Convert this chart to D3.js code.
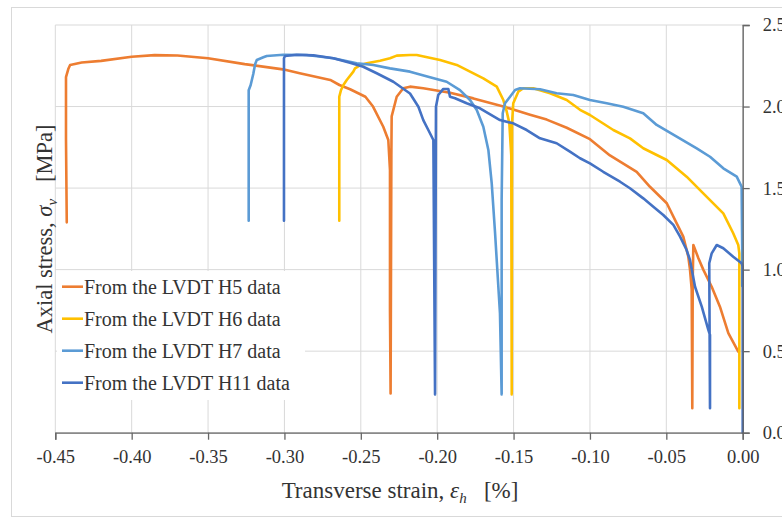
<!DOCTYPE html>
<html><head><meta charset="utf-8">
<script src="https://cdn.jsdelivr.net/npm/d3@7"></script>
<style>
html,body{margin:0;padding:0;background:#fff;}
svg{display:block;}
text{font-family:"Liberation Serif","Times New Roman",serif;fill:#333;}
</style></head>
<body>
<svg id="chart" width="782" height="518"></svg>
<script>
// ---- data ----
const seriesNames = ["From the LVDT H5 data","From the LVDT H6 data","From the LVDT H7 data","From the LVDT H11 data"];
const seriesColors = ["#ED7D31","#FFC000","#5B9BD5","#4472C4"];
const xTicks = [-0.45,-0.40,-0.35,-0.30,-0.25,-0.20,-0.15,-0.10,-0.05,0.00];
const yTicks = [0.0,0.5,1.0,1.5,2.0,2.5];

const h5 = [[-0.4425,1.29],[-0.4430,1.80],[-0.4430,2.18],[-0.4415,2.23],[-0.4403,2.255],[-0.4327,2.27],[-0.420,2.28],[-0.400,2.305],[-0.385,2.315],[-0.370,2.313],[-0.350,2.296],[-0.326,2.26],[-0.301,2.228],[-0.290,2.204],[-0.270,2.163],[-0.264,2.132],[-0.257,2.106],[-0.247,2.06],[-0.242,2.00],[-0.2353,1.876],[-0.2320,1.795],[-0.2309,1.61],[-0.2309,0.75],[-0.2305,0.24],[-0.2300,1.70],[-0.2298,1.94],[-0.2265,2.06],[-0.2222,2.112],[-0.2178,2.122],[-0.2091,2.112],[-0.1916,2.085],[-0.1763,2.05],[-0.1567,2.00],[-0.1392,1.95],[-0.1283,1.92],[-0.1152,1.87],[-0.1000,1.80],[-0.0869,1.70],[-0.0694,1.60],[-0.0607,1.508],[-0.0497,1.407],[-0.0432,1.284],[-0.0389,1.202],[-0.0356,1.079],[-0.0345,1.00],[-0.0334,0.88],[-0.0330,0.15],[-0.0327,0.95],[-0.0323,1.151],[-0.0290,1.07],[-0.0258,1.00],[-0.0203,0.895],[-0.0149,0.773],[-0.0094,0.61],[-0.0029,0.497]];
const h6 = [[-0.2641,1.30],[-0.2641,2.06],[-0.2630,2.10],[-0.2614,2.132],[-0.2592,2.163],[-0.2549,2.214],[-0.2538,2.234],[-0.2500,2.255],[-0.2461,2.265],[-0.2374,2.281],[-0.2309,2.296],[-0.2265,2.312],[-0.2178,2.316],[-0.2134,2.316],[-0.1981,2.285],[-0.1872,2.255],[-0.1785,2.214],[-0.1698,2.173],[-0.1610,2.122],[-0.1567,2.040],[-0.1545,1.97],[-0.1528,1.90],[-0.1515,1.70],[-0.1512,0.235],[-0.1510,1.897],[-0.1502,2.020],[-0.1469,2.091],[-0.1436,2.112],[-0.1371,2.112],[-0.1261,2.081],[-0.1152,2.040],[-0.1065,1.98],[-0.1000,1.948],[-0.0847,1.856],[-0.0738,1.805],[-0.0651,1.744],[-0.0497,1.672],[-0.0367,1.570],[-0.0258,1.468],[-0.0127,1.345],[-0.0062,1.223],[-0.0029,1.151],[-0.0022,1.10],[-0.0022,0.15]];
const h7 = [[-0.3234,1.30],[-0.3234,2.10],[-0.3221,2.132],[-0.3204,2.20],[-0.3192,2.26],[-0.3181,2.285],[-0.3138,2.302],[-0.3116,2.310],[-0.3007,2.318],[-0.2854,2.316],[-0.2680,2.296],[-0.2527,2.265],[-0.2418,2.255],[-0.2309,2.234],[-0.2178,2.214],[-0.2047,2.179],[-0.1938,2.152],[-0.1851,2.101],[-0.1785,2.040],[-0.1741,1.979],[-0.1698,1.876],[-0.1665,1.734],[-0.1643,1.529],[-0.1621,1.223],[-0.1589,0.732],[-0.1578,0.235],[-0.1578,1.427],[-0.1571,1.959],[-0.1556,2.020],[-0.1523,2.060],[-0.1490,2.101],[-0.1458,2.112],[-0.1327,2.106],[-0.1218,2.081],[-0.1109,2.071],[-0.1000,2.040],[-0.0890,2.020],[-0.0782,1.999],[-0.0651,1.959],[-0.0563,1.887],[-0.0432,1.815],[-0.0301,1.744],[-0.0214,1.692],[-0.0127,1.621],[-0.0039,1.570],[-0.0007,1.508],[-0.0003,1.10],[-0.0003,0.90]];
const h11 = [[-0.3003,1.30],[-0.3003,2.296],[-0.2996,2.31],[-0.2920,2.318],[-0.2811,2.314],[-0.2680,2.296],[-0.2571,2.269],[-0.2484,2.244],[-0.2396,2.204],[-0.2287,2.152],[-0.2178,2.08],[-0.2123,1.999],[-0.2091,1.917],[-0.2058,1.856],[-0.2025,1.795],[-0.2014,0.235],[-0.2008,1.999],[-0.1993,2.071],[-0.1960,2.108],[-0.1927,2.108],[-0.1916,2.060],[-0.1883,2.051],[-0.1807,2.020],[-0.1720,1.989],[-0.1589,1.917],[-0.1502,1.897],[-0.1414,1.856],[-0.1327,1.805],[-0.1218,1.775],[-0.1131,1.723],[-0.1065,1.683],[-0.1000,1.652],[-0.0913,1.600],[-0.0803,1.539],[-0.0738,1.499],[-0.0651,1.437],[-0.0585,1.386],[-0.0520,1.335],[-0.0454,1.274],[-0.0410,1.202],[-0.0367,1.120],[-0.0345,1.059],[-0.0312,0.895],[-0.0268,0.773],[-0.0225,0.630],[-0.0214,0.599],[-0.0214,0.15],[-0.0219,1.039],[-0.0203,1.100],[-0.0170,1.151],[-0.0127,1.131],[-0.0062,1.079],[-0.0007,1.039],[0.0,1.02],[0.0,0.0]];
const seriesData = [h5,h6,h7,h11];

// ---- chart ----
const svg = d3.select("#chart");
const L = 55.3, R = 742.7, T = 25, B = 432.7;
const x = d3.scaleLinear().domain([-0.45,0]).range([L,R]);
const y = d3.scaleLinear().domain([0,2.5]).range([B,T]);

// outer border
svg.append("rect").attr("x",11.5).attr("y",7.5).attr("width",800).attr("height",509)
  .attr("fill","#fff").attr("stroke","#d9d9d9").attr("stroke-width",1);

// gridlines
const grid = svg.append("g");
grid.selectAll("line.v").data(xTicks).join("line")
  .attr("x1",d=>x(d)).attr("x2",d=>x(d)).attr("y1",T).attr("y2",B)
  .attr("stroke","#d9d9d9").attr("stroke-width",1);
grid.selectAll("line.h").data(yTicks).join("line")
  .attr("x1",L).attr("x2",R).attr("y1",d=>y(d)).attr("y2",d=>y(d))
  .attr("stroke","#d9d9d9").attr("stroke-width",1);

// series
const line = d3.line().x(d=>x(d[0])).y(d=>y(d[1]));
svg.append("g").selectAll("path").data(seriesData).join("path")
  .attr("d",line).attr("fill","none")
  .attr("stroke",(d,i)=>seriesColors[i]).attr("stroke-width",2.6)
  .attr("stroke-linejoin","round").attr("stroke-linecap","round");

// axes
const fmtX = v => d3.format(".2f")(v).replace("\u2212","-");
const xAxis = d3.axisBottom(x).tickValues(xTicks).tickFormat(fmtX).tickSize(7).tickPadding(10);
const gx = svg.append("g").attr("transform",`translate(0,${B})`).call(xAxis);
gx.select(".domain").attr("stroke","#666").attr("stroke-width",1.3);
gx.selectAll(".tick line").attr("stroke","#666").attr("stroke-width",1.3);
gx.selectAll(".tick text").attr("font-size",18.5).attr("fill","#333")
  .attr("font-family","Liberation Serif, serif");

const yAxis = d3.axisRight(y).tickValues(yTicks).tickFormat(d3.format(".1f")).tickSize(7).tickPadding(13);
const gy = svg.append("g").attr("transform",`translate(${R},0)`).call(yAxis);
gy.select(".domain").attr("stroke","#666").attr("stroke-width",1.3);
gy.selectAll(".tick line").attr("stroke","#666").attr("stroke-width",1.3);
gy.selectAll(".tick text").attr("font-size",18.5).attr("fill","#333")
  .attr("font-family","Liberation Serif, serif");

// axis titles
const xt = svg.append("text").attr("x",400).attr("y",498).attr("text-anchor","middle").attr("font-size",23);
xt.append("tspan").text("Transverse strain, ");
xt.append("tspan").attr("font-style","italic").text("\u03B5");
xt.append("tspan").attr("font-style","italic").attr("font-size",15).attr("dy",5).text("h");
xt.append("tspan").attr("dy",-5).text("\u00A0\u00A0\u00A0[%]");

const yt = svg.append("text").attr("transform","translate(52,229) rotate(-90)").attr("text-anchor","middle").attr("font-size",22.5);
yt.append("tspan").text("Axial stress, ");
yt.append("tspan").attr("font-style","italic").text("\u03C3");
yt.append("tspan").attr("font-style","italic").attr("font-size",15).attr("dy",5).text("v");
yt.append("tspan").attr("dy",-5).text("\u00A0\u00A0\u00A0[MPa]");

// legend
const lg = svg.append("g");
lg.append("rect").attr("x",57).attr("y",271).attr("width",248).attr("height",129).attr("fill","#fff");
const items = lg.selectAll("g.item").data(seriesNames).join("g")
  .attr("transform",(d,i)=>`translate(0,${286.7+i*32})`);
items.append("line").attr("x1",62).attr("x2",83).attr("y1",0).attr("y2",0)
  .attr("stroke",(d,i)=>seriesColors[i]).attr("stroke-width",2.6);
items.append("text").attr("x",84).attr("y",7).attr("font-size",20).text(d=>d);
</script>
</body></html>
